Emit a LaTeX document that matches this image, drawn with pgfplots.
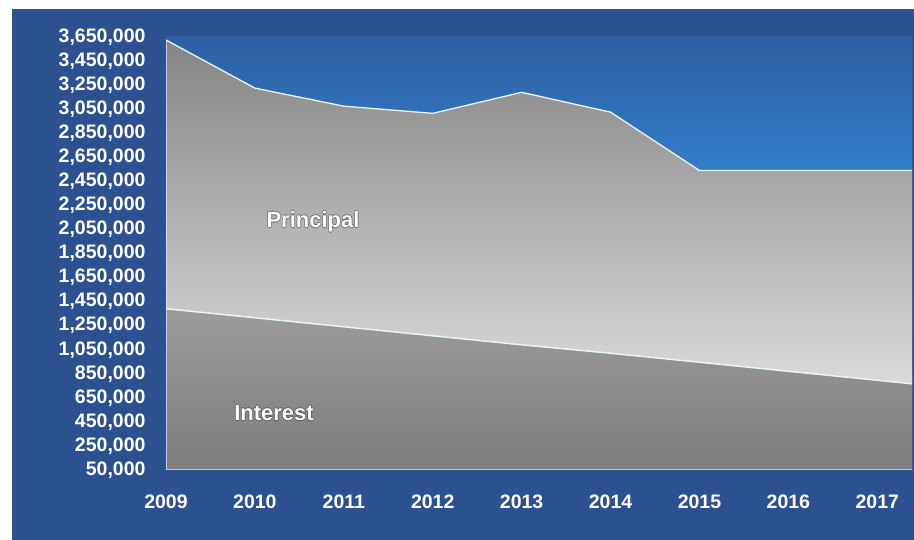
\documentclass[border=0pt]{standalone}
\usepackage{pgfplots}
\pgfplotsset{compat=1.18}
\usepackage{fontspec}
\setmainfont{Liberation Sans}
\definecolor{panel}{HTML}{2C5190}
\definecolor{bgtop}{HTML}{2D5FA2}
\definecolor{bgbot}{HTML}{3690E4}
\definecolor{edge}{HTML}{E8F4FF}
\definecolor{halo}{HTML}{3A3A4A}
\begin{document}
\begin{tikzpicture}[x=1pt,y=1pt]
\fill[white] (0,0) rectangle (914,540);
\fill[panel] (12,0) rectangle (914,531);
\begin{axis}[
  at={(166pt,70pt)}, anchor=south west,
  scale only axis, width=746pt, height=433pt,
  xmin=2009, xmax=2017.39,
  ymin=50000, ymax=3650000,
  axis line style={draw=none},
  tick style={draw=none},
  axis background/.style={top color=bgtop, bottom color=bgbot, middle color=bgbot},
  xtick={2009,2010,...,2017},
  ytick={50000,250000,...,3650000},
  scaled y ticks=false,
  /pgf/number format/.cd, assume math mode=true, fixed, 1000 sep={,},
  /pgfplots/.cd,
  xticklabel={\pgfmathprintnumber[1000 sep={}]{\tick}},
  ticklabel style={font=\fontsize{19.5}{22}\selectfont\bfseries, text=white},
  yticklabel style={xshift=-17pt},
  xticklabel style={yshift=-21pt},
  stack plots=y,
]
% Interest
\addplot[draw=edge, line width=1.3pt, top color=black!39, bottom color=black!51]
  coordinates {(2009,1390000) (2010,1315000) (2011,1240000) (2012,1165000) (2013,1090000)
               (2014,1020000) (2015,945000) (2016,870000) (2017,795000) (2018,720000)} \closedcycle;
% Principal
\addplot[draw=edge, line width=1.3pt, top color=black!48, bottom color=black!14]
  coordinates {(2009,2235000) (2010,1910000) (2011,1835000) (2012,1850000) (2013,2100000)
               (2014,2005000) (2015,1595000) (2016,1670000) (2017,1745000) (2018,1820000)} \closedcycle;
\end{axis}
\foreach \dx/\dy in {-0.7/0,0.7/0,0/-0.7,0/0.7}{
  \node[font=\fontsize{22}{26}\selectfont\bfseries, text=halo, opacity=0.5] at (313+\dx,318+\dy) {Principal};
  \node[font=\fontsize{22}{26}\selectfont\bfseries, text=halo, opacity=0.5] at (274+\dx,127+\dy) {Interest};
}
\node[font=\fontsize{22}{26}\selectfont\bfseries] at (313,318) {\color{white}Principal};
\node[font=\fontsize{22}{26}\selectfont\bfseries] at (274,127) {\color{white}Interest};
\end{tikzpicture}
\end{document}
